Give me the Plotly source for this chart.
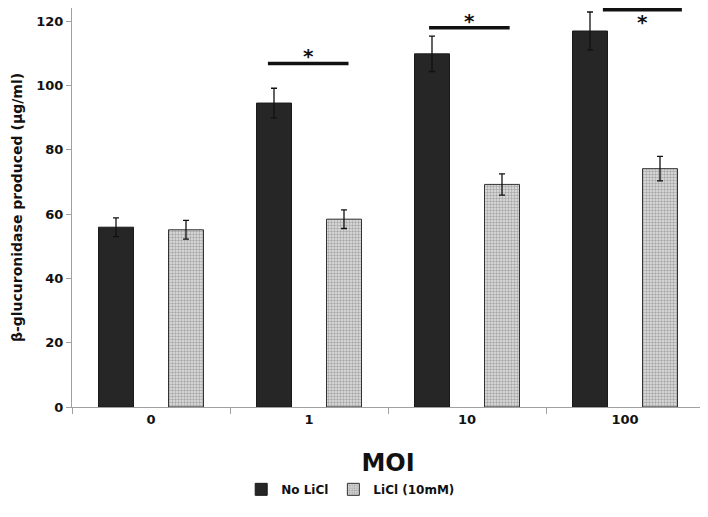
import plotly.graph_objects as go

categories = ["0", "1", "10", "100"]
no_licl = [55.9, 94.5, 109.8, 116.9]
no_licl_err = [2.9, 4.6, 5.5, 5.9]
licl = [55.1, 58.4, 69.2, 74.1]
licl_err = [2.9, 2.9, 3.3, 3.8]
series_names = ["No LiCl", "LiCl (10mM)"]
y_ticks = [0, 20, 40, 60, 80, 100, 120]

# significance markers: category index, bar height (data units)
sig_cats = [1, 2, 3]
sig_y = [106.8, 117.9, 123.5]

FONT = "DejaVu Sans"

fig = go.Figure()
fig.add_trace(go.Bar(
    x=categories, y=no_licl, name=series_names[0],
    marker=dict(color="#262626", line=dict(color="#1a1a1a", width=1)),
    error_y=dict(type="data", array=no_licl_err, color="#111", thickness=1.3, width=3),
))
fig.add_trace(go.Bar(
    x=categories, y=licl, name=series_names[1],
    marker=dict(color="#d9d9d9", line=dict(color="#333", width=1),
                pattern=dict(shape=".", fgcolor="#6e6e6e", bgcolor="#e2e2e2", size=3, solidity=0.5)),
    error_y=dict(type="data", array=licl_err, color="#111", thickness=1.3, width=3),
))

offsets = [(-0.26, 0.25), (-0.24, 0.27), (-0.14, 0.36)]
star_dy = [2.3, 2.1, -3.8]
for c, yv, (a, b), dy in zip(sig_cats, sig_y, offsets, star_dy):
    fig.add_shape(type="line", xref="x", yref="y", x0=c + a, x1=c + b, y0=yv, y1=yv,
                  line=dict(color="#111", width=3.5))
    fig.add_annotation(x=c + (a + b) / 2, y=yv + dy, xref="x", yref="y", text="<b>*</b>",
                       showarrow=False, font=dict(size=20, color="#111", family="DejaVu Sans"),
                       borderpad=0)

fig.update_layout(
    width=700, height=509,
    margin=dict(l=64, r=4, t=0, b=110, autoexpand=False),
    plot_bgcolor="white", paper_bgcolor="white",
    barmode="group", bargap=0.114, bargroupgap=0.5,
    font=dict(family=FONT, color="#111"),
    showlegend=True,
    legend=dict(orientation="h", x=0.441, xanchor="center", y=-0.17, yanchor="top",
                font=dict(size=12, family=FONT, weight="bold"), itemwidth=30, traceorder="normal"),
)
fig.update_xaxes(
    automargin=False,
    showline=True, linecolor="#a0a0a0", linewidth=1,
    ticks="outside", tickson="boundaries", ticklen=6, tickcolor="#a0a0a0",
    tickfont=dict(size=13, family=FONT, weight="bold"),
    title=dict(text="<b>MOI</b>", font=dict(size=24, family=FONT), standoff=28),
    showgrid=False,
)
fig.update_yaxes(
    automargin=False,
    range=[0, 124.05], tickvals=y_ticks, showline=True, linecolor="#a0a0a0", linewidth=1,
    ticks="outside", ticklen=5, tickcolor="#a0a0a0",
    tickfont=dict(size=13, family=FONT, weight="bold"),
    title=dict(text="<b>β-glucuronidase produced (μg/ml)</b>", font=dict(size=14, family=FONT), standoff=10),
    showgrid=False, zeroline=False,
)

fig.write_html("out.html")
